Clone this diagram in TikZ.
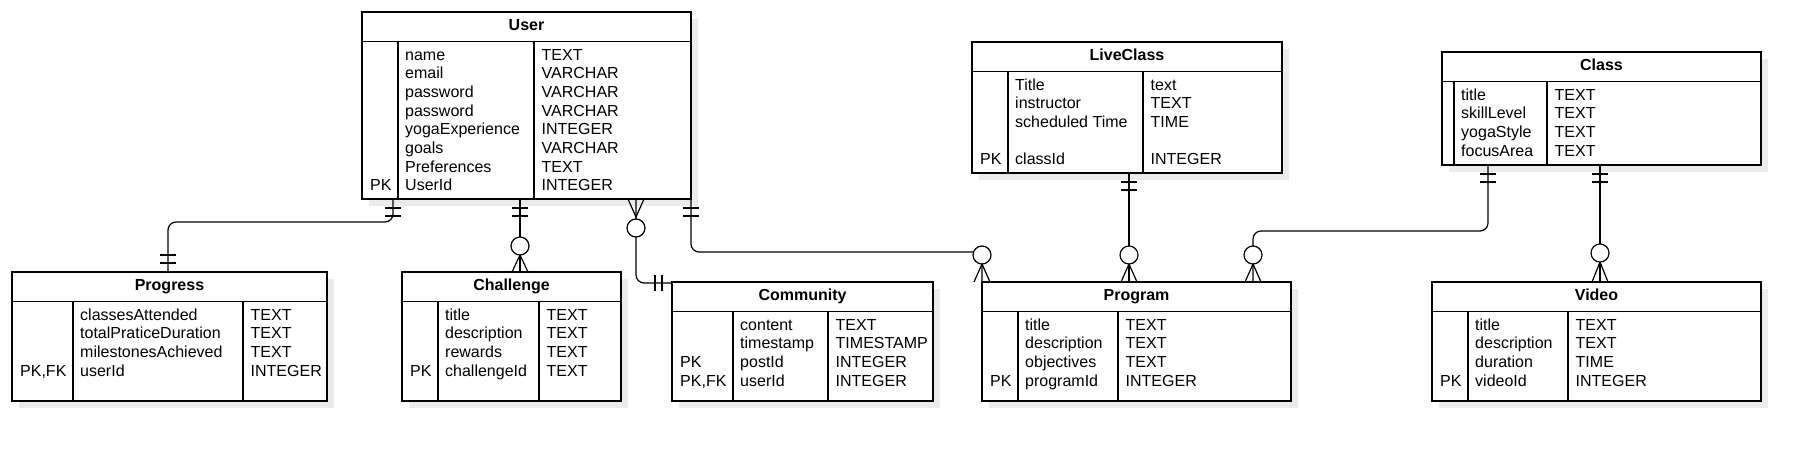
\documentclass[tikz,border=0pt]{standalone}
\usepackage{fontspec}
\setmainfont{Liberation Sans}
\usetikzlibrary{fit,calc}
\newcommand\cellfnt{\fontsize{16}{19}\selectfont}
\newcommand\hdrfnt{\fontsize{16}{19}\selectfont\bfseries}
\tikzset{
  ln/.style={line width=1.2pt, black},
  entbox/.style={draw, line width=1.2pt, fill=white, inner sep=0pt, outer sep=0pt},
  shadowc/.style={fill=black!8},
  hdr/.style={font=\hdrfnt, anchor=base, inner sep=0pt},
  cell/.style={font=\cellfnt, anchor=base west, inner sep=0pt},
  conn/.style={line width=1.2pt, rounded corners=8pt},
  tk/.style={line width=1.2pt},
  ring/.style={circle, draw, fill=white, line width=1.2pt, minimum size=18pt, inner sep=0pt, outer sep=0pt},
}
% entity: id, title, left, top, right, bottom, col1, col2
\newcommand\erbox[8]{%
  \def\curId{#1}\def\curL{#3}\def\curT{#4}\def\curA{#7}\def\curB{#8}%
  \fill[shadowc] (#3+7,#4+7) rectangle (#5+7,#6+7);
  \node[fit={(#3,#4)(#5,#6)}, entbox] (#1) {};
  \draw[ln] (#3,#4+29.5) -- (#5,#4+29.5);
  \draw[ln] (#7,#4+29.5) -- (#7,#6);
  \draw[ln] (#8,#4+29.5) -- (#8,#6);
  \node[hdr] (#1-title) at ({(#3+#5)/2},#4+18.7) {#2};
}
% row: index, key, name, type
\newcommand\errow[4]{%
  \if\relax\detokenize{#2}\relax\else
  \node[cell] (\curId-k#1) at (\curL+8,\curT+48+#1*18.7) {#2};\fi
  \node[cell] (\curId-n#1) at (\curA+7,\curT+48+#1*18.7) {#3};
  \node[cell] (\curId-t#1) at (\curB+7.5,\curT+48+#1*18.7) {#4};
}
\newcommand\tickh[2]{\draw[tk] (#1-8,#2) -- (#1+8,#2);}
\newcommand\tickv[2]{\draw[tk] (#1,#2-8) -- (#1,#2+8);}
% crow foot on vertical line: x, apex y, edge y
\newcommand\crow[3]{\draw[tk] (#1-8,#3) -- (#1,#2) -- (#1+8,#3);}
\begin{document}
\begin{tikzpicture}[x=1pt,y=-1pt]
\useasboundingbox[fill=white] (0,0) rectangle (1811,452);

% ---------- entities ----------
\erbox{user}{User}{362}{12}{691}{199}{398}{534}
\errow{0}{}{name}{TEXT}
\errow{1}{}{email}{VARCHAR}
\errow{2}{}{password}{VARCHAR}
\errow{3}{}{password}{VARCHAR}
\errow{4}{}{yogaExperience}{INTEGER}
\errow{5}{}{goals}{VARCHAR}
\errow{6}{}{Preferences}{TEXT}
\errow{7}{PK}{UserId}{INTEGER}

\erbox{progress}{Progress}{12}{272}{327}{401}{73}{243}
\errow{0}{}{classesAttended}{TEXT}
\errow{1}{}{totalPraticeDuration}{TEXT}
\errow{2}{}{milestonesAchieved}{TEXT}
\errow{3}{PK,FK}{userId}{INTEGER}

\erbox{challenge}{Challenge}{402}{272}{621}{401}{438}{539}
\errow{0}{}{title}{TEXT}
\errow{1}{}{description}{TEXT}
\errow{2}{}{rewards}{TEXT}
\errow{3}{PK}{challengeId}{TEXT}

\erbox{community}{Community}{672}{282}{933}{401}{733}{828}
\errow{0}{}{content}{TEXT}
\errow{1}{}{timestamp}{TIMESTAMP}
\errow{2}{PK}{postId}{INTEGER}
\errow{3}{PK,FK}{userId}{INTEGER}

\erbox{liveclass}{LiveClass}{972}{42}{1282}{173}{1008}{1143}
\errow{0}{}{Title}{text}
\errow{1}{}{instructor}{TEXT}
\errow{2}{}{scheduled Time}{TIME}
\errow{4}{PK}{classId}{INTEGER}

\erbox{program}{Program}{982}{282}{1291}{401}{1018}{1118}
\errow{0}{}{title}{TEXT}
\errow{1}{}{description}{TEXT}
\errow{2}{}{objectives}{TEXT}
\errow{3}{PK}{programId}{INTEGER}

\erbox{class}{Class}{1442}{52}{1761}{165}{1454}{1547}
\errow{0}{}{title}{TEXT}
\errow{1}{}{skillLevel}{TEXT}
\errow{2}{}{yogaStyle}{TEXT}
\errow{3}{}{focusArea}{TEXT}

\erbox{video}{Video}{1432}{282}{1761}{401}{1468}{1568}
\errow{0}{}{title}{TEXT}
\errow{1}{}{description}{TEXT}
\errow{2}{}{duration}{TIME}
\errow{3}{PK}{videoId}{INTEGER}

% ---------- connectors ----------
% User -- Progress
\draw[conn] ($(user.south west)+(31,0)$) -- ++(0,23) -| ($(progress.north west)+(156,0)$);
\tickh{393}{208}\tickh{393}{216}
\tickh{168}{255}\tickh{168}{263}

% User -- Challenge
\draw[conn] ($(user.south west)+(158,0)$) -- ($(challenge.north west)+(118,0)$);
\tickh{520}{208}\tickh{520}{216}
\crow{520}{255}{272}
\node[ring] (r1) at (520,246) {};

% User -- Community
\draw[conn] ($(user.south west)+(274,0)$) |- ($(community.north west)+(0,1)$);
\crow{636}{217}{199}
\node[ring] (r2) at (636,228) {};
\tickv{655}{283}\tickv{662}{283}

% User -- Program
\draw[conn] (user.south east) -- ++(0,53) -| (program.north west);
\tickh{691}{208}\tickh{691}{216}
\crow{982}{264}{282}
\node[ring] (r3) at (982,255) {};

% LiveClass -- Program
\draw[conn] ($(liveclass.south west)+(157,0)$) -- ($(program.north west)+(147,0)$);
\tickh{1129}{182}\tickh{1129}{190}
\crow{1129}{264}{282}
\node[ring] (r4) at (1129,255) {};

% Class -- Program
\draw[conn] ($(class.south west)+(46,0)$) -- ++(0,66) -| ($(program.north west)+(271,0)$);
\tickh{1488}{174}\tickh{1488}{182}
\crow{1253}{264}{282}
\node[ring] (r5) at (1253,255) {};

% Class -- Video
\draw[conn] ($(class.south west)+(158,0)$) -- ($(video.north west)+(168,0)$);
\tickh{1600}{174}\tickh{1600}{182}
\crow{1600}{262}{282}
\node[ring] (r6) at (1600,253) {};
\end{tikzpicture}
\end{document}
